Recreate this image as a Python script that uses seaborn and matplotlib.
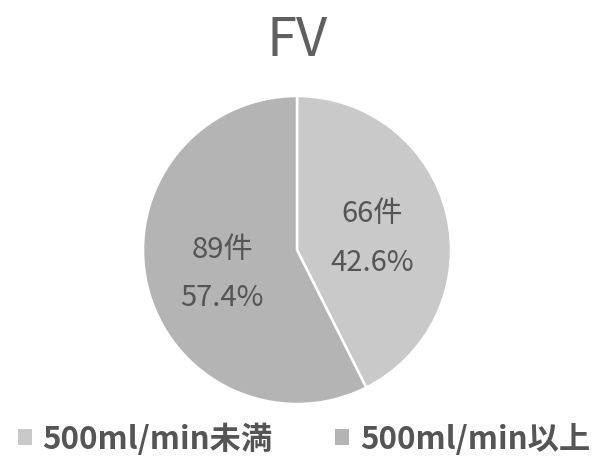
import matplotlib
matplotlib.use("Agg")
import matplotlib.pyplot as plt
import seaborn as sns
from matplotlib.patches import Patch

sns.set_theme(style="white")
plt.rcParams["font.family"] = ["Noto Sans CJK JP", "DejaVu Sans"]

title = "FV"
categories = ["500ml/min未満", "500ml/min以上"]
counts = [66, 89]
colors = ["#c9c9c9", "#b4b4b4"]
text_color = "#555555"

total = sum(counts)

fig = plt.figure(figsize=(5.96, 4.64), dpi=100)
cx, cy, r = 297, 464 - 251, 154
ax = fig.add_axes([(cx - r) / 596, (cy - r) / 464, 2 * r / 596, 2 * r / 464])

wedges, _, autotexts = ax.pie(
    counts,
    colors=colors,
    startangle=90,
    counterclock=False,
    autopct=lambda p: f"{round(p * total / 100)}件\n{p:.1f}%",
    pctdistance=0.5,
    wedgeprops=dict(edgecolor="white", linewidth=1.8),
    textprops=dict(color=text_color, fontsize=21, linespacing=1.8),
)
# nudge the two-line labels slightly downward inside their wedges
for t in autotexts:
    x, y = t.get_position()
    t.set_position((x, y - 0.035))
ax.set_xlim(-1, 1)
ax.set_ylim(-1, 1)
ax.set_aspect("equal")

fig.text(cx / 596, 1 - 40 / 464, title, ha="center", va="center",
         fontsize=39, color="#606060")

handles = [Patch(facecolor=c, edgecolor="none") for c in colors]
fig.legend(handles, categories, loc="center", bbox_to_anchor=(304 / 596, 1 - 440 / 464),
           ncol=2, frameon=False, labelcolor=text_color,
           prop=dict(size=22.5, weight="bold"),
           handlelength=0.45, handleheight=0.45, handletextpad=0.35, columnspacing=2.0)

fig.savefig("out.png", dpi=100, facecolor="white")
